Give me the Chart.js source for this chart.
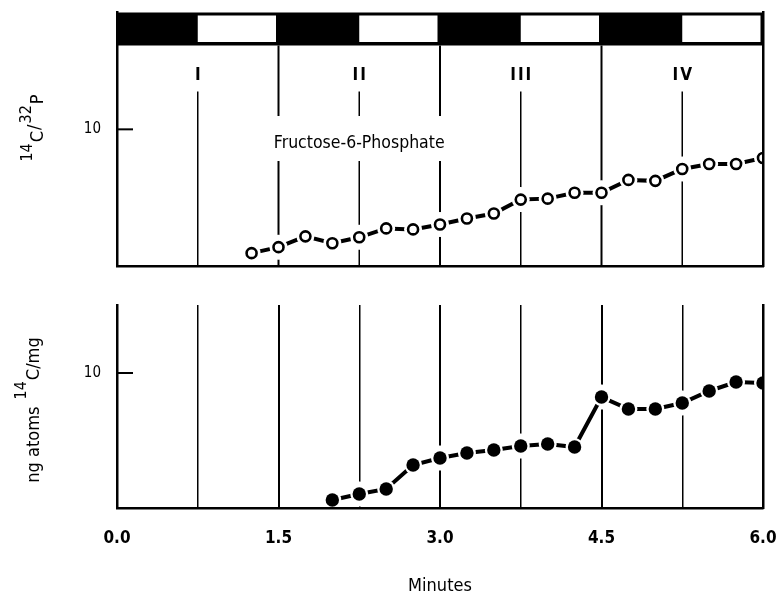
<!DOCTYPE html>
<html>
<head>
<meta charset="utf-8">
<script src="https://cdn.jsdelivr.net/npm/chart.js@4.4.1/dist/chart.umd.min.js"></script>
<style>
  html, body { margin: 0; padding: 0; background: #fff; }
  #wrap { position: relative; width: 778px; height: 594px; }
  #wrap canvas { position: absolute; left: 0; top: 0; }
</style>
</head>
<body>
<div id="wrap">
  <canvas id="topPanel" width="778" height="594"></canvas>
  <canvas id="bottomPanel" width="778" height="594"></canvas>
</div>
<script>
// upper panel: 14C/32P ratio of fructose-6-phosphate
const f6pMinutes = [1.25, 1.5, 1.75, 2.0, 2.25, 2.5, 2.75, 3.0, 3.25, 3.5, 3.75, 4.0, 4.25, 4.5, 4.75, 5.0, 5.25, 5.5, 5.75, 6.0];
const f6pRatio = [0.94, 1.38, 2.17, 1.67, 2.10, 2.75, 2.68, 3.04, 3.48, 3.84, 4.86, 4.93, 5.36, 5.36, 6.30, 6.23, 7.10, 7.46, 7.46, 7.90];

// lower panel: ng atoms 14C / mg
const c14Minutes = [2.0, 2.25, 2.5, 2.75, 3.0, 3.25, 3.5, 3.75, 4.0, 4.25, 4.5, 4.75, 5.0, 5.25, 5.5, 5.75, 6.0];
const c14Atoms = [0.59, 1.04, 1.41, 3.19, 3.70, 4.07, 4.30, 4.59, 4.74, 4.52, 8.22, 7.33, 7.33, 7.78, 8.67, 9.33, 9.26];

const xTicks = [0, 0.75, 1.5, 2.25, 3.0, 3.75, 4.5, 5.25, 6.0];
const xTickLabels = ['0.0', '', '1.5', '', '3.0', '', '4.5', '', '6.0'];
const yTicks = [10];
const yTickLabels = ['10'];

const phaseNames = ['I', 'II', 'III', 'IV'];
const phaseCenters = [0.75, 2.25, 3.75, 5.25];
const phaseBounds = [1.5, 3.0, 4.5];
const lightPeriods = [[0.75, 1.5], [2.25, 3.0], [3.75, 4.5], [5.25, 6.0]];
const seriesLabel = 'Fructose-6-Phosphate';

const FONT = '"DejaVu Sans Condensed", "DejaVu Sans", sans-serif';

function markerSets(xs, ys, filled) {
  const pts = xs.map((x, i) => ({ x, y: ys[i] }));
  const dot = { data: pts, showLine: false, pointBorderWidth: 0, pointHoverRadius: 0, clip: 0 };
  return [
    // white gap cut into the guide lines
    { ...dot, order: 4, pointRadius: 12.5, pointBackgroundColor: '#fff' },
    { data: pts, order: 3, showLine: true, borderColor: '#000', borderWidth: 4, pointRadius: 0, clip: 0 },
    // short gap between marker and connecting line
    { ...dot, order: 2, pointRadius: 9, pointBackgroundColor: '#fff' },
    {
      ...dot, order: 1,
      pointRadius: filled ? 6.7 : 5,
      pointBackgroundColor: filled ? '#000' : '#fff',
      pointBorderColor: '#000',
      pointBorderWidth: filled ? 0 : 2.6,
    },
  ];
}

function verticalTitle(ctx, baseX, midY, parts) {
  ctx.save();
  ctx.translate(baseX, midY);
  ctx.rotate(-Math.PI / 2);
  ctx.fillStyle = '#000';
  ctx.textAlign = 'left';
  ctx.textBaseline = 'alphabetic';
  let total = 0;
  parts.forEach(p => {
    ctx.font = `${p.size}px ${FONT}`;
    p.w = ctx.measureText(p.t).width;
    total += p.w + (p.gap || 0);
  });
  let cx = -total / 2;
  parts.forEach(p => {
    ctx.font = `${p.size}px ${FONT}`;
    ctx.fillText(p.t, cx, -p.rise);
    cx += p.w + (p.gap || 0);
  });
  ctx.restore();
}

function vline(ctx, px, y0, y1) {
  ctx.beginPath();
  ctx.moveTo(px, y0);
  ctx.lineTo(px, y1);
  ctx.stroke();
}

function noEdgePadding(s) {
  s.paddingTop = 0;
  s.paddingBottom = 0;
  s.paddingLeft = 0;
  s.paddingRight = 0;
}

// inward tick mark at the labelled y value + rotated y title
const panelDecor = {
  id: 'panelDecor',
  beforeDatasetsDraw(chart, args, opts) {
    const { ctx, chartArea: a, scales: { y } } = chart;
    ctx.save();
    ctx.strokeStyle = '#000';
    ctx.lineWidth = 2;
    yTicks.forEach(v => {
      const py = y.getPixelForValue(v);
      ctx.beginPath();
      ctx.moveTo(a.left, py);
      ctx.lineTo(a.left + 16, py);
      ctx.stroke();
    });
    ctx.restore();
  },
  afterDraw(chart, args, opts) {
    verticalTitle(chart.ctx, opts.baseX, opts.midY, opts.parts);
  },
};

// light/dark strip, phase guide lines and the series label of the upper panel
const phaseDecor = {
  id: 'phaseDecor',
  beforeDatasetsDraw(chart) {
    const { ctx, chartArea: a, scales: { x, y } } = chart;
    ctx.save();
    ctx.fillStyle = '#000';
    ctx.fillRect(a.left, a.top, a.right - a.left, 33);
    ctx.fillStyle = '#fff';
    lightPeriods.forEach(([s, e]) => {
      const x0 = x.getPixelForValue(s), x1 = x.getPixelForValue(e);
      ctx.fillRect(x0, a.top + 3, x1 - x0 - 2.5, 26.5);
    });

    ctx.strokeStyle = '#000';
    ctx.lineWidth = 2;
    phaseBounds.forEach(v => vline(ctx, x.getPixelForValue(v), a.top + 33, a.bottom));
    ctx.lineWidth = 1.5;
    phaseCenters.forEach(v => vline(ctx, x.getPixelForValue(v), a.top + 79, a.bottom));

    ctx.fillStyle = '#000';
    ctx.font = `bold 17px ${FONT}`;
    ctx.textAlign = 'center';
    ctx.textBaseline = 'middle';
    ctx.letterSpacing = '2px';
    phaseNames.forEach((n, i) => ctx.fillText(n, x.getPixelForValue(phaseCenters[i]) + 1, a.top + 63));
    ctx.letterSpacing = '0px';

    ctx.font = `17.5px ${FONT}`;
    const lx = x.getPixelForValue(2.25), ly = y.getPixelForValue(9.0);
    const w = ctx.measureText(seriesLabel).width;
    ctx.fillStyle = '#fff';
    ctx.fillRect(lx - w / 2 - 8, ly - 27, w + 16, 45);
    ctx.fillStyle = '#000';
    ctx.fillText(seriesLabel, lx, ly);
    ctx.restore();
  },
};

function yScale(max) {
  return {
    type: 'linear', min: 0, max,
    afterBuildTicks: s => { s.ticks = yTicks.map(v => ({ value: v })); },
    ticks: {
      color: '#000', padding: 16, font: { family: FONT, size: 15 },
      callback: (v, i) => yTickLabels[i],
    },
    grid: { drawOnChartArea: false, drawTicks: false },
    border: { color: '#000', width: 2.5, z: 1 },
    afterFit: s => { s.width = 117; noEdgePadding(s); },
  };
}

const rightEdge = {
  position: 'right', min: 0, max: 1,
  ticks: { display: false },
  grid: { display: false, drawTicks: false },
  border: { color: '#000', width: 2.5, z: 1 },
  afterFit: s => { s.width = 0; noEdgePadding(s); },
};

const common = {
  responsive: false,
  animation: false,
  events: [],
};

new Chart(document.getElementById('topPanel'), {
  type: 'line',
  data: { datasets: markerSets(f6pMinutes, f6pRatio, false) },
  plugins: [phaseDecor, panelDecor],
  options: {
    ...common,
    layout: { padding: { top: 10, right: 15, left: 0, bottom: 0 } },
    scales: {
      x: {
        type: 'linear', min: 0, max: 6,
        ticks: { display: false },
        grid: { drawOnChartArea: false, drawTicks: false },
        border: { color: '#000', width: 2.5, z: 1 },
        afterFit: s => { s.height = 328; noEdgePadding(s); },
      },
      y: yScale(18.55),
      y2: rightEdge,
    },
    plugins: {
      legend: { display: false },
      tooltip: { enabled: false },
      panelDecor: {
        baseX: 43, midY: 128,
        parts: [
          { t: '14', size: 16, rise: 11, gap: 1 },
          { t: 'C', size: 18, rise: 0, gap: 1 },
          { t: '/', size: 18, rise: 3, gap: 1 },
          { t: '32', size: 16, rise: 12, gap: 1 },
          { t: 'P', size: 18, rise: 0 },
        ],
      },
    },
  },
});

new Chart(document.getElementById('bottomPanel'), {
  type: 'line',
  data: { datasets: markerSets(c14Minutes, c14Atoms, true) },
  plugins: [panelDecor],
  options: {
    ...common,
    layout: { padding: { top: 305, right: 15, left: 0, bottom: 0 } },
    scales: {
      x: {
        type: 'linear', min: 0, max: 6,
        afterBuildTicks: s => { s.ticks = xTicks.map(v => ({ value: v })); },
        ticks: {
          color: '#000', padding: 20, autoSkip: false, maxRotation: 0,
          font: { family: FONT, size: 17, weight: 'bold' },
          callback: (v, i) => xTickLabels[i],
        },
        grid: {
          drawOnChartArea: true, drawTicks: false, color: '#000',
          lineWidth: c => (phaseBounds.includes(c.tick && c.tick.value) ? 2 : 1.5),
        },
        border: { color: '#000', width: 2.5, z: 1 },
        title: {
          display: true, text: 'Minutes', color: '#000',
          font: { family: FONT, size: 18, lineHeight: 1 },
          padding: { top: 0, bottom: -1 },
        },
        afterFit: s => { s.height = 86; noEdgePadding(s); },
      },
      y: yScale(15.04),
      y2: rightEdge,
    },
    plugins: {
      legend: { display: false },
      tooltip: { enabled: false },
      panelDecor: {
        baseX: 39, midY: 410,
        parts: [
          { t: 'ng atoms ', size: 18, rise: 0, gap: 2 },
          { t: '14', size: 16, rise: 13, gap: 1 },
          { t: 'C/mg', size: 18, rise: 0 },
        ],
      },
    },
  },
});
</script>
</body>
</html>
